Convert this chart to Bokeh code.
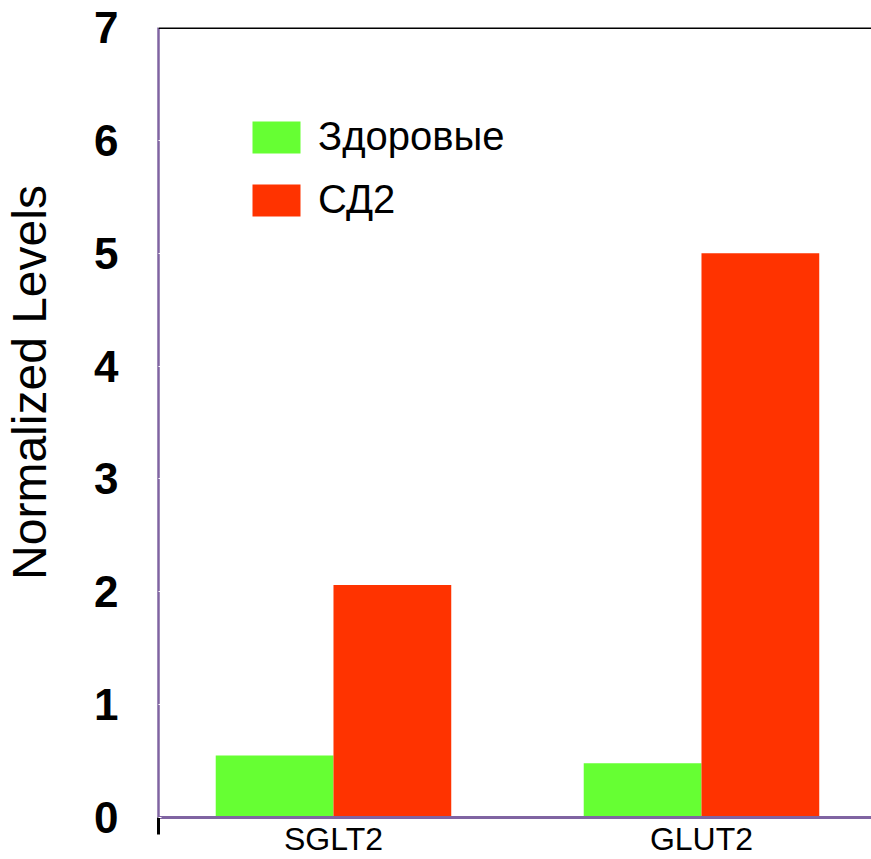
from bokeh.embed import file_html
from bokeh.models import FixedTicker, Legend, LegendItem, Range1d, Span
from bokeh.plotting import figure
from bokeh.resources import INLINE

# Expression levels per transporter
genes = ["SGLT2", "GLUT2"]
healthy = [0.55, 0.48]   # Здоровые
t2d = [2.06, 5.0]        # СД2
series_names = ["Здоровые", "СД2"]
y_ticks = [0, 1, 2, 3, 4, 5, 6, 7]
y_title = "Normalized Levels"

GREEN = "#66FF33"
RED = "#FF3300"
AXIS_PURPLE = "#8064A2"
FONT = "Liberation Sans"

positions = list(range(len(genes)))
bar_w = 0.32
x_start, x_end = -0.4755, 1.462

p = figure(
    width=871, height=859,
    x_range=Range1d(x_start, x_end),
    y_range=Range1d(0, 7),
    output_backend="svg", toolbar_location=None,
    min_border_left=158, min_border_right=0,
    min_border_top=27, min_border_bottom=41,
)
p.outline_line_color = None
p.grid.grid_line_color = None
p.background_fill_color = "white"
p.border_fill_color = "white"

g = p.vbar(x=[x - bar_w / 2 for x in positions], top=healthy, width=bar_w,
           bottom=0, fill_color=GREEN, line_color=None)
r = p.vbar(x=[x + bar_w / 2 for x in positions], top=t2d, width=bar_w,
           bottom=0, fill_color=RED, line_color=None)

# x axis: gene names at the group centres, one small tick at the left end
xa = p.xaxis[0]
xa.ticker = FixedTicker(ticks=positions, minor_ticks=[x_start])
xa.major_label_overrides = {i: name for i, name in enumerate(genes)}
xa.major_label_text_font = FONT
xa.major_label_text_font_size = "32px"
xa.major_label_text_color = "black"
xa.major_label_standoff = -14
xa.major_tick_line_color = None
xa.minor_tick_line_color = "black"
xa.minor_tick_line_width = 3
xa.minor_tick_out = 17
xa.minor_tick_in = 0
xa.axis_line_color = AXIS_PURPLE
xa.axis_line_width = 3

# y axis; the title is nudged towards the top with leading no-break spaces
ya = p.yaxis[0]
ya.ticker = FixedTicker(ticks=y_ticks)
ya.major_label_text_font = FONT
ya.major_label_text_font_style = "bold"
ya.major_label_text_font_size = "44px"
ya.major_label_text_color = "black"
ya.major_label_standoff = 40
ya.major_tick_line_color = "white"
ya.major_tick_in = 3
ya.major_tick_out = 0
ya.minor_tick_line_color = None
ya.axis_line_color = AXIS_PURPLE
ya.axis_line_width = 2.5
ya.axis_label = "\u00a0" * 6 + y_title
ya.axis_label_standoff = 35
ya.axis_label_text_font = FONT
ya.axis_label_text_font_size = "48px"
ya.axis_label_text_font_style = "normal"
ya.axis_label_text_color = "black"

# top border line at the end of the value range
p.add_layout(Span(location=7, dimension="width", line_color="black",
                  line_width=3))

legend = Legend(
    items=[LegendItem(label=series_names[0], renderers=[g]),
           LegendItem(label=series_names[1], renderers=[r])],
    location=(88, 595),
    glyph_width=60, glyph_height=40,
    label_height=32, spacing=18, padding=0, margin=0,
    label_standoff=12,
    label_text_font=FONT, label_text_font_size="40px",
    label_text_color="black",
    border_line_color=None, background_fill_alpha=0,
)
p.add_layout(legend)

open("out.html", "w").write(file_html(p, INLINE))
